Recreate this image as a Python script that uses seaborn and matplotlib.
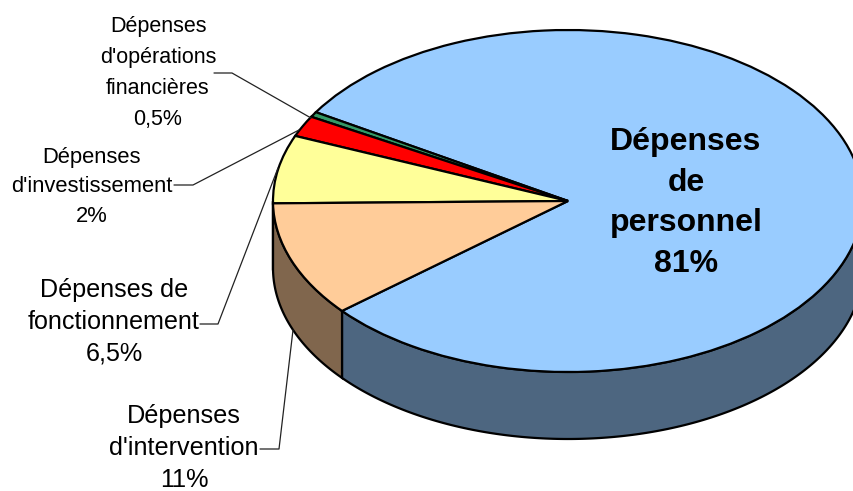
import numpy as np
import matplotlib
matplotlib.use("Agg")
import matplotlib.pyplot as plt
import seaborn as sns

labels = ["Dépenses\nde\npersonnel\n81%",
          "Dépenses\nd'opérations\nfinancières\n0,5%",
          "Dépenses\nd'investissement\n2%",
          "Dépenses de\nfonctionnement\n6,5%",
          "Dépenses\nd'intervention\n11%"]
values = [81, 0.5, 2, 6.5, 11]
top_colors = ["#99CCFF", "#339966", "#FF0000", "#FFFF99", "#FFCC99"]
side_colors = ["#4D6680", "#1A4D33", "#800000", "#808050", "#80664D"]

W, H = 854, 491
CX, CY, RX, RY, DEPTH = 568, 201, 295, 171, 67
START = 220

sns.set_theme(style="white")
plt.rcParams["font.family"] = ["Liberation Sans", "DejaVu Sans"]

fig = plt.figure(figsize=(W / 100, H / 100), dpi=100)
ax = fig.add_axes([0, 0, 1, 1])
ax.pie(values, colors=top_colors, startangle=START, counterclock=True,
       wedgeprops=dict(edgecolor="black", linewidth=1.6, zorder=3))
ax.set_aspect("auto")
ax.set_xlim(-CX / RX, (W - CX) / RX)
ax.set_ylim((CY - H) / RY, CY / RY)
ax.axis("off")

# side wall of the disc, drawn from the same slice angles
d = DEPTH / RY
edges = START + np.concatenate([[0], np.cumsum(values)]) / sum(values) * 360
for a, b, c in zip(edges[:-1], edges[1:], side_colors):
    for k in (-1, 0):
        lo, hi = max(a + 360 * k, 180), min(b + 360 * k, 360)
        if hi <= lo:
            continue
        t = np.radians(np.linspace(lo, hi, 200))
        xs = np.cos(t)
        ys = np.sin(t)
        ax.fill(np.r_[xs, xs[::-1]], np.r_[ys, ys[::-1] - d], facecolor=c,
                edgecolor="black", linewidth=1.6, zorder=2, clip_on=True)

def px(x, y):
    return (x / W, 1 - y / H)

# leader lines (pixel positions)
leaders = [
    [(214, 73), (232, 73), (311, 118)],
    [(174, 185), (193, 185), (299, 130)],
    [(200, 324), (218, 324), (278, 168)],
    [(260, 449), (279, 449), (293, 330)],
]
for pts in leaders:
    f = np.array([px(*p) for p in pts])
    ax.plot(f[:, 0], f[:, 1], transform=fig.transFigure, color="#222222",
            lw=0.9, zorder=4)

placements = [(686, 203, 23, "bold", 1.46),
              (158, 73, 15.5, "normal", 1.62),
              (92, 187, 15.8, "normal", 1.55),
              (114, 322, 18.1, "normal", 1.4),
              (184, 448, 18.2, "normal", 1.44)]
for lab, (x, y, s, w, ls) in zip(labels, placements):
    fx, fy = px(x, y)
    fig.text(fx, fy, lab, ha="center", va="center", fontsize=s, fontweight=w,
             linespacing=ls, color="black", zorder=5)

fig.savefig("out.png", dpi=100)
